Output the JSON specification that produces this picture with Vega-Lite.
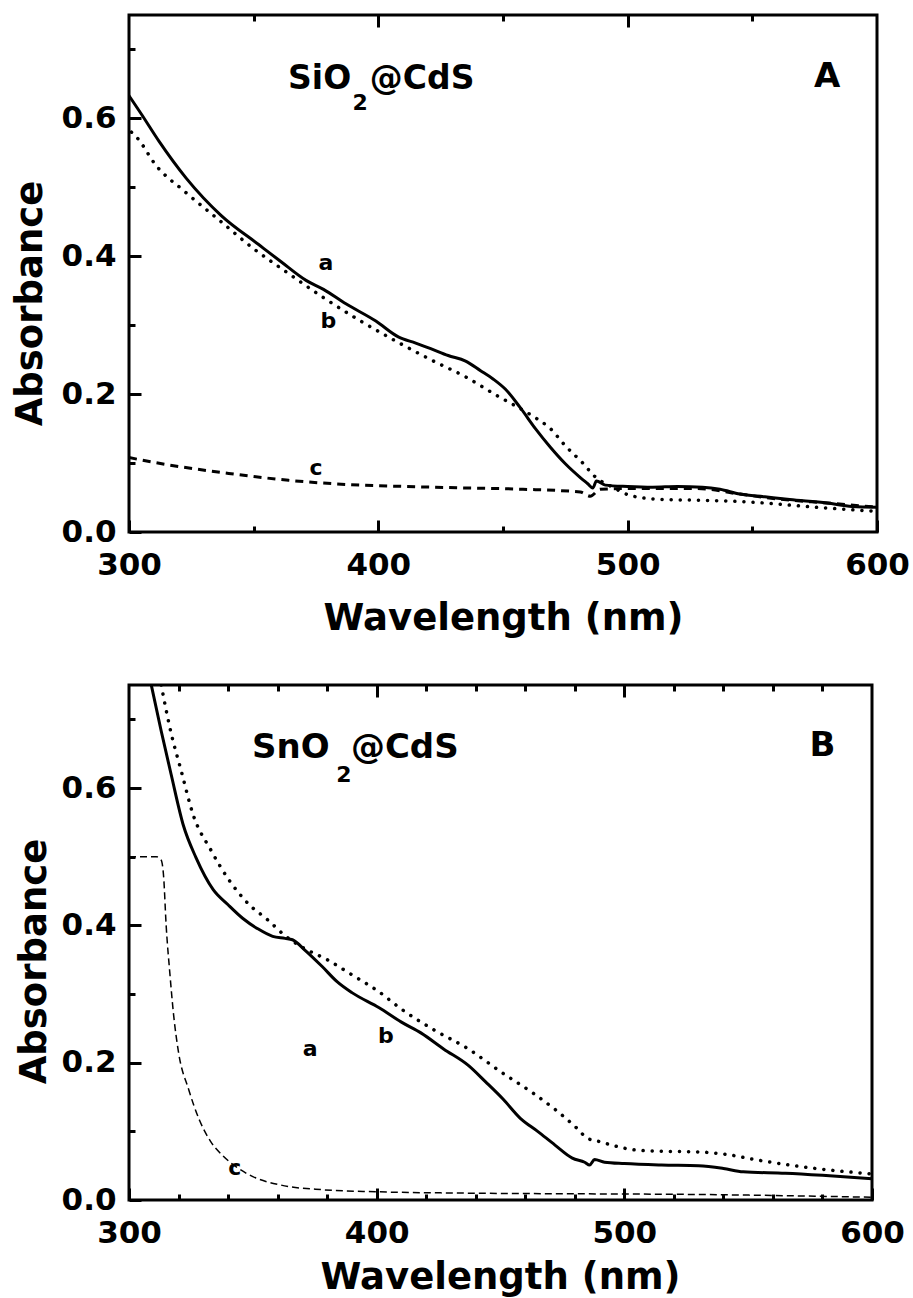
{
  "$schema": "https://vega.github.io/schema/vega-lite/v6.json",
  "autosize": {"type": "none"},
  "padding": {"left": 129, "top": 15, "right": 784, "bottom": 1283},
  "background": "white",
  "bounds": "flush",
  "spacing": 153,
  "config": {
    "view": {"stroke": "black", "strokeWidth": 3},
    "axis": {"domain": false, "grid": false, "tickColor": "black", "tickWidth": 3, "labelFont": "DejaVu Sans", "labelFontWeight": "bold", "labelFontSize": 31, "labelColor": "black", "titleFont": "DejaVu Sans", "titleFontWeight": "bold", "titleFontSize": 37, "titleColor": "black", "labelFlush": false, "labelOverlap": false},
    "text": {"font": "DejaVu Sans", "fontWeight": "bold", "color": "black"}
  },
  "datasets": {
    "Aa": [
      {"nm": 300, "A": 0.633}, {"nm": 305, "A": 0.606}, {"nm": 312, "A": 0.567}, {"nm": 323, "A": 0.513}, {"nm": 337, "A": 0.459}, {"nm": 352, "A": 0.417}, {"nm": 361, "A": 0.392}, {"nm": 371, "A": 0.365}, {"nm": 378, "A": 0.352}, {"nm": 387, "A": 0.331}, {"nm": 399, "A": 0.306}, {"nm": 408, "A": 0.283}, {"nm": 415, "A": 0.274}, {"nm": 421, "A": 0.266}, {"nm": 428, "A": 0.256}, {"nm": 435, "A": 0.248}, {"nm": 441, "A": 0.234}, {"nm": 446, "A": 0.222}, {"nm": 451, "A": 0.207}, {"nm": 457, "A": 0.18}, {"nm": 463, "A": 0.15}, {"nm": 469, "A": 0.123}, {"nm": 475, "A": 0.099}, {"nm": 481, "A": 0.079}, {"nm": 484, "A": 0.07}, {"nm": 486, "A": 0.064}, {"nm": 487.5, "A": 0.074}, {"nm": 491, "A": 0.068}, {"nm": 500, "A": 0.066}, {"nm": 510, "A": 0.065}, {"nm": 520, "A": 0.066}, {"nm": 530, "A": 0.065}, {"nm": 537, "A": 0.062}, {"nm": 545, "A": 0.055}, {"nm": 555, "A": 0.051}, {"nm": 565, "A": 0.047}, {"nm": 580, "A": 0.042}, {"nm": 590, "A": 0.037}, {"nm": 600, "A": 0.036}
    ],
    "Ab": [
      {"nm": 301, "A": 0.58}, {"nm": 303, "A": 0.573}, {"nm": 311, "A": 0.531}, {"nm": 322, "A": 0.495}, {"nm": 336, "A": 0.453}, {"nm": 350, "A": 0.411}, {"nm": 364, "A": 0.375}, {"nm": 378, "A": 0.34}, {"nm": 392, "A": 0.308}, {"nm": 408, "A": 0.275}, {"nm": 421, "A": 0.25}, {"nm": 435, "A": 0.225}, {"nm": 448, "A": 0.197}, {"nm": 455, "A": 0.183}, {"nm": 462, "A": 0.168}, {"nm": 469, "A": 0.15}, {"nm": 475, "A": 0.125}, {"nm": 482, "A": 0.1}, {"nm": 487, "A": 0.08}, {"nm": 494, "A": 0.065}, {"nm": 502, "A": 0.052}, {"nm": 515, "A": 0.047}, {"nm": 530, "A": 0.046}, {"nm": 540, "A": 0.045}, {"nm": 555, "A": 0.042}, {"nm": 575, "A": 0.036}, {"nm": 600, "A": 0.03}
    ],
    "Ac": [
      {"nm": 300, "A": 0.108}, {"nm": 310, "A": 0.101}, {"nm": 320, "A": 0.095}, {"nm": 340, "A": 0.085}, {"nm": 364, "A": 0.075}, {"nm": 387, "A": 0.069}, {"nm": 411, "A": 0.066}, {"nm": 434, "A": 0.064}, {"nm": 458, "A": 0.062}, {"nm": 481, "A": 0.058}, {"nm": 485, "A": 0.052}, {"nm": 489, "A": 0.062}, {"nm": 500, "A": 0.063}, {"nm": 528, "A": 0.063}, {"nm": 545, "A": 0.055}, {"nm": 560, "A": 0.048}, {"nm": 580, "A": 0.042}, {"nm": 600, "A": 0.036}
    ],
    "Alab": [
      {"nm": 379, "A": 0.39, "t": "a"}, {"nm": 380, "A": 0.306, "t": "b"}, {"nm": 375, "A": 0.093, "t": "c"}
    ],
    "Atitle": [
      {"nm": 363.8, "A": 0.642, "t": "SiO"}, {"nm": 396.6, "A": 0.642, "t": "@CdS"}
    ],
    "Asub": [{"nm": 389.6, "A": 0.612, "t": "2"}],
    "Aletter": [{"nm": 580, "A": 0.645, "t": "A"}],
    "Ba": [
      {"nm": 309, "A": 0.75}, {"nm": 313, "A": 0.683}, {"nm": 317, "A": 0.62}, {"nm": 322, "A": 0.545}, {"nm": 327, "A": 0.499}, {"nm": 334, "A": 0.452}, {"nm": 340, "A": 0.43}, {"nm": 346, "A": 0.41}, {"nm": 352, "A": 0.395}, {"nm": 358, "A": 0.384}, {"nm": 363, "A": 0.381}, {"nm": 366, "A": 0.379}, {"nm": 371, "A": 0.364}, {"nm": 378, "A": 0.34}, {"nm": 384, "A": 0.318}, {"nm": 390, "A": 0.302}, {"nm": 401, "A": 0.28}, {"nm": 410, "A": 0.259}, {"nm": 418, "A": 0.243}, {"nm": 427, "A": 0.22}, {"nm": 437, "A": 0.196}, {"nm": 444, "A": 0.172}, {"nm": 451, "A": 0.147}, {"nm": 458, "A": 0.119}, {"nm": 465, "A": 0.1}, {"nm": 472, "A": 0.08}, {"nm": 479, "A": 0.061}, {"nm": 484, "A": 0.055}, {"nm": 486, "A": 0.051}, {"nm": 488, "A": 0.059}, {"nm": 492, "A": 0.055}, {"nm": 500, "A": 0.053}, {"nm": 515, "A": 0.051}, {"nm": 530, "A": 0.05}, {"nm": 540, "A": 0.046}, {"nm": 548, "A": 0.041}, {"nm": 565, "A": 0.039}, {"nm": 580, "A": 0.036}, {"nm": 600, "A": 0.031}
    ],
    "Bb": [
      {"nm": 313, "A": 0.75}, {"nm": 317, "A": 0.68}, {"nm": 321, "A": 0.626}, {"nm": 326, "A": 0.56}, {"nm": 333, "A": 0.51}, {"nm": 340, "A": 0.468}, {"nm": 348, "A": 0.432}, {"nm": 356, "A": 0.408}, {"nm": 363, "A": 0.385}, {"nm": 370, "A": 0.368}, {"nm": 380, "A": 0.35}, {"nm": 390, "A": 0.328}, {"nm": 401, "A": 0.303}, {"nm": 410, "A": 0.278}, {"nm": 423, "A": 0.248}, {"nm": 437, "A": 0.22}, {"nm": 450, "A": 0.187}, {"nm": 463, "A": 0.156}, {"nm": 472, "A": 0.132}, {"nm": 477, "A": 0.117}, {"nm": 481, "A": 0.104}, {"nm": 485, "A": 0.09}, {"nm": 490, "A": 0.085}, {"nm": 497, "A": 0.078}, {"nm": 504, "A": 0.073}, {"nm": 515, "A": 0.071}, {"nm": 530, "A": 0.07}, {"nm": 540, "A": 0.067}, {"nm": 554, "A": 0.058}, {"nm": 577, "A": 0.046}, {"nm": 600, "A": 0.038}
    ],
    "Bc": [
      {"nm": 300, "A": 0.5}, {"nm": 311, "A": 0.5}, {"nm": 313, "A": 0.495}, {"nm": 314, "A": 0.47}, {"nm": 315, "A": 0.4}, {"nm": 316.5, "A": 0.33}, {"nm": 318, "A": 0.27}, {"nm": 320, "A": 0.215}, {"nm": 324, "A": 0.162}, {"nm": 328.6, "A": 0.115}, {"nm": 333, "A": 0.085}, {"nm": 338, "A": 0.064}, {"nm": 343, "A": 0.049}, {"nm": 350, "A": 0.034}, {"nm": 361, "A": 0.022}, {"nm": 378, "A": 0.015}, {"nm": 400, "A": 0.012}, {"nm": 436, "A": 0.01}, {"nm": 483, "A": 0.009}, {"nm": 530, "A": 0.008}, {"nm": 600, "A": 0.004}
    ],
    "Blab": [
      {"nm": 373.2, "A": 0.22, "t": "a"}, {"nm": 403.7, "A": 0.239, "t": "b"}, {"nm": 342.7, "A": 0.047, "t": "c"}
    ],
    "Btitle": [
      {"nm": 349.7, "A": 0.643, "t": "SnO"}, {"nm": 389.6, "A": 0.643, "t": "@CdS"}
    ],
    "Bsub": [{"nm": 383.7, "A": 0.609, "t": "2"}],
    "Bletter": [{"nm": 580, "A": 0.646, "t": "B"}]
  },
  "vconcat": [
    {
      "width": 748,
      "height": 517,
      "resolve": {"axis": {"x": "independent", "y": "independent"}},
      "layer": [
        {
          "data": {"name": "Aa"},
          "mark": {"type": "line", "color": "black", "strokeWidth": 3, "interpolate": "monotone", "clip": true},
          "encoding": {
            "x": {"field": "nm", "type": "quantitative", "scale": {"domain": [300, 600], "nice": false, "zero": false},
              "axis": {"orient": "bottom", "values": [300, 400, 500, 600], "tickSize": -12, "labelPadding": 30, "title": "Wavelength (nm)", "titleX": 374, "titleY": 97, "titleAlign": "center", "titleBaseline": "alphabetic", "titleAngle": 0}},
            "y": {"field": "A", "type": "quantitative", "scale": {"domain": [0, 0.75], "nice": false},
              "axis": {"orient": "left", "values": [0, 0.2, 0.4, 0.6], "format": ".1f", "tickSize": -12, "labelPadding": 25, "title": "Absorbance", "titleX": -88, "titleY": 288, "titleAngle": -90, "titleAlign": "center", "titleBaseline": "alphabetic"}}
          }
        },
        {
          "data": {"name": "Ab"},
          "mark": {"type": "line", "color": "black", "strokeWidth": 3.5, "strokeDash": [0.1, 9], "strokeCap": "round", "interpolate": "monotone", "clip": true},
          "encoding": {
            "x": {"field": "nm", "type": "quantitative", "scale": {"domain": [300, 600], "nice": false, "zero": false},
              "axis": {"orient": "bottom", "values": [350, 450, 550], "tickSize": -6, "labels": false, "title": null}},
            "y": {"field": "A", "type": "quantitative", "scale": {"domain": [0, 0.75], "nice": false},
              "axis": {"orient": "left", "values": [0.1, 0.3, 0.5, 0.7], "tickSize": -6, "labels": false, "title": null}}
          }
        },
        {
          "data": {"name": "Ac"},
          "mark": {"type": "line", "color": "black", "strokeWidth": 3, "strokeDash": [8, 6], "interpolate": "monotone", "clip": true},
          "encoding": {
            "x": {"field": "nm", "type": "quantitative", "scale": {"domain": [300, 600], "nice": false, "zero": false},
              "axis": {"orient": "top", "values": [400, 500], "tickSize": -12, "labels": false, "title": null}},
            "y": {"field": "A", "type": "quantitative", "scale": {"domain": [0, 0.75], "nice": false}, "axis": null}
          }
        },
        {
          "data": {"name": "Alab"},
          "mark": {"type": "text", "fontSize": 22, "align": "center", "baseline": "middle"},
          "encoding": {
            "x": {"field": "nm", "type": "quantitative", "scale": {"domain": [300, 600], "nice": false, "zero": false},
              "axis": {"orient": "top", "values": [350, 450, 550], "tickSize": -6, "labels": false, "title": null}},
            "y": {"field": "A", "type": "quantitative", "scale": {"domain": [0, 0.75], "nice": false}, "axis": null},
            "text": {"field": "t"}
          }
        },
        {
          "data": {"name": "Atitle"},
          "mark": {"type": "text", "fontSize": 33, "align": "left", "baseline": "alphabetic"},
          "encoding": {
            "x": {"field": "nm", "type": "quantitative", "axis": null},
            "y": {"field": "A", "type": "quantitative", "axis": null},
            "text": {"field": "t"}
          }
        },
        {
          "data": {"name": "Asub"},
          "mark": {"type": "text", "fontSize": 22, "align": "left", "baseline": "alphabetic"},
          "encoding": {
            "x": {"field": "nm", "type": "quantitative", "axis": null},
            "y": {"field": "A", "type": "quantitative", "axis": null},
            "text": {"field": "t"}
          }
        },
        {
          "data": {"name": "Aletter"},
          "mark": {"type": "text", "fontSize": 34, "align": "center", "baseline": "alphabetic"},
          "encoding": {
            "x": {"field": "nm", "type": "quantitative", "axis": null},
            "y": {"field": "A", "type": "quantitative", "axis": null},
            "text": {"field": "t"}
          }
        }
      ]
    },
    {
      "width": 743,
      "height": 515,
      "resolve": {"axis": {"x": "independent", "y": "independent"}},
      "layer": [
        {
          "data": {"name": "Ba"},
          "mark": {"type": "line", "color": "black", "strokeWidth": 3, "interpolate": "monotone", "clip": true},
          "encoding": {
            "x": {"field": "nm", "type": "quantitative", "scale": {"domain": [300, 600], "nice": false, "zero": false},
              "axis": {"orient": "bottom", "values": [300, 400, 500, 600], "tickSize": -12, "labelPadding": 30, "title": "Wavelength (nm)", "titleX": 371, "titleY": 88, "titleAlign": "center", "titleBaseline": "alphabetic", "titleAngle": 0}},
            "y": {"field": "A", "type": "quantitative", "scale": {"domain": [0, 0.75], "nice": false},
              "axis": {"orient": "left", "values": [0, 0.2, 0.4, 0.6], "format": ".1f", "tickSize": -12, "labelPadding": 25, "title": "Absorbance", "titleX": -84, "titleY": 276, "titleAngle": -90, "titleAlign": "center", "titleBaseline": "alphabetic"}}
          }
        },
        {
          "data": {"name": "Bb"},
          "mark": {"type": "line", "color": "black", "strokeWidth": 3.5, "strokeDash": [0.1, 9], "strokeCap": "round", "interpolate": "monotone", "clip": true},
          "encoding": {
            "x": {"field": "nm", "type": "quantitative", "scale": {"domain": [300, 600], "nice": false, "zero": false},
              "axis": {"orient": "bottom", "values": [320, 340, 360, 380, 420, 440, 460, 480, 520, 540, 560, 580], "tickSize": -6, "labels": false, "title": null}},
            "y": {"field": "A", "type": "quantitative", "scale": {"domain": [0, 0.75], "nice": false},
              "axis": {"orient": "left", "values": [0.1, 0.3, 0.5, 0.7], "tickSize": -6, "labels": false, "title": null}}
          }
        },
        {
          "data": {"name": "Bc"},
          "mark": {"type": "line", "color": "black", "strokeWidth": 1.5, "strokeDash": [7, 4], "interpolate": "monotone", "clip": true},
          "encoding": {
            "x": {"field": "nm", "type": "quantitative", "scale": {"domain": [300, 600], "nice": false, "zero": false},
              "axis": {"orient": "top", "values": [400, 500], "tickSize": -12, "labels": false, "title": null}},
            "y": {"field": "A", "type": "quantitative", "scale": {"domain": [0, 0.75], "nice": false}, "axis": null}
          }
        },
        {
          "data": {"name": "Blab"},
          "mark": {"type": "text", "fontSize": 22, "align": "center", "baseline": "middle"},
          "encoding": {
            "x": {"field": "nm", "type": "quantitative", "scale": {"domain": [300, 600], "nice": false, "zero": false},
              "axis": {"orient": "top", "values": [320, 340, 360, 380, 420, 440, 460, 480, 520, 540, 560, 580], "tickSize": -6, "labels": false, "title": null}},
            "y": {"field": "A", "type": "quantitative", "scale": {"domain": [0, 0.75], "nice": false}, "axis": null},
            "text": {"field": "t"}
          }
        },
        {
          "data": {"name": "Btitle"},
          "mark": {"type": "text", "fontSize": 34, "align": "left", "baseline": "alphabetic"},
          "encoding": {
            "x": {"field": "nm", "type": "quantitative", "axis": null},
            "y": {"field": "A", "type": "quantitative", "axis": null},
            "text": {"field": "t"}
          }
        },
        {
          "data": {"name": "Bsub"},
          "mark": {"type": "text", "fontSize": 22, "align": "left", "baseline": "alphabetic"},
          "encoding": {
            "x": {"field": "nm", "type": "quantitative", "axis": null},
            "y": {"field": "A", "type": "quantitative", "axis": null},
            "text": {"field": "t"}
          }
        },
        {
          "data": {"name": "Bletter"},
          "mark": {"type": "text", "fontSize": 34, "align": "center", "baseline": "alphabetic"},
          "encoding": {
            "x": {"field": "nm", "type": "quantitative", "axis": null},
            "y": {"field": "A", "type": "quantitative", "axis": null},
            "text": {"field": "t"}
          }
        }
      ]
    }
  ]
}
